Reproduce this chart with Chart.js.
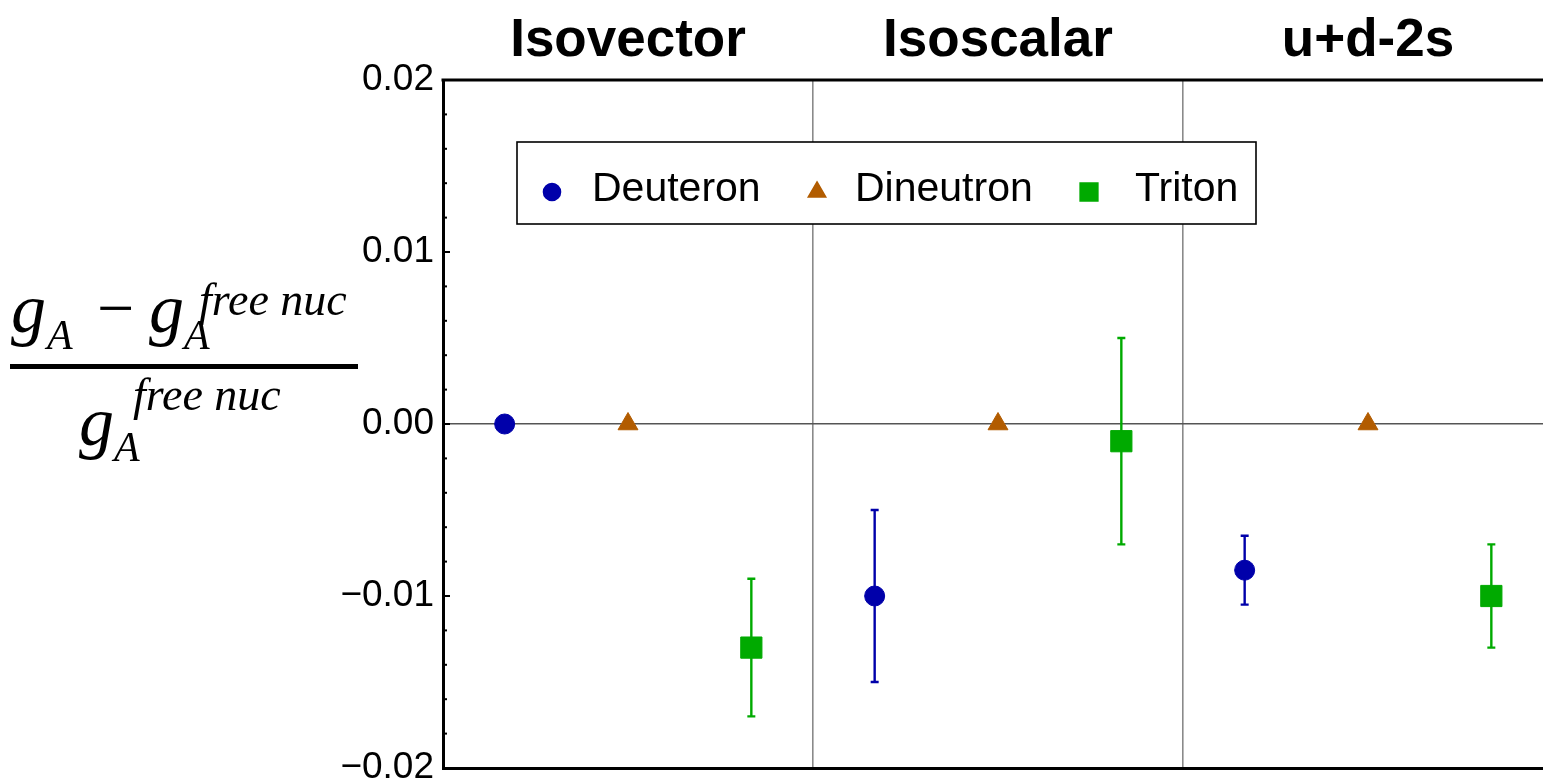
<!DOCTYPE html>
<html>
<head>
<meta charset="utf-8">
<script src="https://cdn.jsdelivr.net/npm/chart.js@4/dist/chart.umd.min.js"></script>
<style>
  html, body { margin: 0; padding: 0; background: #fff; overflow: hidden; }
  #wrap { width: 1560px; height: 781px; }
</style>
</head>
<body>
<div id="wrap"><canvas id="gaChart" width="1560" height="781"></canvas></div>
<script>
// panels along x (each one unit wide)
const groups = ["Isovector", "Isoscalar", "u+d-2s"];
const names = ["Deuteron", "Dineutron", "Triton"];
const slot = [1 / 6, 1 / 2, 5 / 6];   // position of each species inside a panel

// values
const deuteron = [0, -0.010, -0.0085];
const deuteronLo = [null, -0.015, -0.0105];
const deuteronHi = [null, -0.005, -0.0065];
const dineutron = [0, 0, 0];
const dineutronLo = [null, null, null];
const dineutronHi = [null, null, null];
const triton = [-0.013, -0.001, -0.010];
const tritonLo = [-0.017, -0.007, -0.013];
const tritonHi = [-0.009, 0.005, -0.007];

const yTickValues = [0.02, 0.01, 0, -0.01, -0.02];
const yTickLabels = ["0.02", "0.01", "0.00", "\u22120.01", "\u22120.02"];
const yMinorStep = 0.002;

const colors = ["#0000aa", "#b25c00", "#00aa00"];
const styles = ["circle", "triangle", "rect"];
const radii = [10, 11.5, 15];

const values = [deuteron, dineutron, triton];
const lows = [deuteronLo, dineutronLo, tritonLo];
const highs = [deuteronHi, dineutronHi, tritonHi];

function points(k) {
    return values[k].map((v, i) => ({x: i + slot[k], y: v}));
}

const errorBars = {
    id: "errorBars",
    beforeDatasetsDraw(chart) {
        const ctx = chart.ctx;
        const xs = chart.scales.x, ys = chart.scales.y;
        ctx.save();
        ctx.lineWidth = 2.4;
        for (let k = 0; k < 3; k++) {
            ctx.strokeStyle = colors[k];
            for (let i = 0; i < groups.length; i++) {
                if (lows[k][i] == null) continue;
                const px = xs.getPixelForValue(i + slot[k]);
                const y1 = ys.getPixelForValue(lows[k][i]);
                const y2 = ys.getPixelForValue(highs[k][i]);
                ctx.beginPath();
                ctx.moveTo(px, y1); ctx.lineTo(px, y2);
                ctx.moveTo(px - 4, y1); ctx.lineTo(px + 4, y1);
                ctx.moveTo(px - 4, y2); ctx.lineTo(px + 4, y2);
                ctx.stroke();
            }
        }
        ctx.restore();
    }
};

const decorations = {
    id: "decorations",
    afterDraw(chart) {
        const ctx = chart.ctx;
        const a = chart.chartArea;
        const xs = chart.scales.x, ys = chart.scales.y;
        ctx.save();
        // top frame line
        ctx.strokeStyle = "#000";
        ctx.lineWidth = 3;
        ctx.beginPath();
        ctx.moveTo(a.left - 1.5, a.top); ctx.lineTo(a.right, a.top);
        ctx.stroke();
        // inward ticks on the y axis
        ctx.lineWidth = 2;
        for (let v = ys.min; v <= ys.max + 1e-9; v += yMinorStep) {
            const py = ys.getPixelForValue(v);
            const major = Math.abs(v / 0.01 - Math.round(v / 0.01)) < 1e-6;
            ctx.beginPath();
            ctx.moveTo(a.left, py); ctx.lineTo(a.left + (major ? 7 : 4), py);
            ctx.stroke();
        }
        // panel titles
        ctx.fillStyle = "#000";
        ctx.font = "bold 53px 'Liberation Sans', Arial, sans-serif";
        ctx.textAlign = "center";
        ctx.textBaseline = "alphabetic";
        groups.forEach((g, i) => ctx.fillText(g, xs.getPixelForValue(i + 0.5), 56));

        // legend box
        const lx = 517, ly = 142, lw = 739, lh = 82;
        ctx.fillStyle = "#fff";
        ctx.fillRect(lx, ly, lw, lh);
        ctx.strokeStyle = "#000";
        ctx.lineWidth = 1.6;
        ctx.strokeRect(lx, ly, lw, lh);
        const symX = [552, 817, 1089];
        const textX = [592, 855, 1135];
        const legR = [8.5, 10, 12.5];
        ctx.font = "41px 'Liberation Sans', Arial, sans-serif";
        ctx.textAlign = "left";
        for (let k = 0; k < 3; k++) {
            ctx.fillStyle = colors[k];
            ctx.strokeStyle = colors[k];
            Chart.helpers.drawPoint(ctx, {pointStyle: styles[k], radius: legR[k], rotation: 0, borderWidth: 1}, symX[k], 192);
            ctx.fill();
            ctx.fillStyle = "#000";
            ctx.fillText(names[k], textX[k], 201);
        }

        // y axis title: (g_A - g_A^free nuc) / g_A^free nuc
        ctx.fillStyle = "#000";
        const big = "italic 70px 'Liberation Serif', 'Times New Roman', serif";
        const sub = "italic 42px 'Liberation Serif', 'Times New Roman', serif";
        const sup = "italic 46px 'Liberation Serif', 'Times New Roman', serif";
        ctx.font = big; ctx.fillText("g", 11, 332);
        ctx.font = sub; ctx.fillText("A", 47, 349);
        ctx.font = "66px 'Liberation Serif', 'Times New Roman', serif";
        ctx.fillText("\u2212", 97, 330);
        ctx.font = big; ctx.fillText("g", 149, 332);
        ctx.font = sub; ctx.fillText("A", 184, 349);
        ctx.font = sup; ctx.fillText("free nuc", 199, 315);
        ctx.fillRect(10, 364, 348, 5);
        ctx.font = big; ctx.fillText("g", 79, 445);
        ctx.font = sub; ctx.fillText("A", 114, 461);
        ctx.font = sup; ctx.fillText("free nuc", 133, 410);
        ctx.restore();
    }
};

const ctx = document.getElementById("gaChart").getContext("2d");
const gaChart = new Chart(ctx, {
    type: "scatter",
    data: {
        datasets: names.map((n, k) => ({
            label: n,
            data: points(k),
            pointStyle: styles[k],
            pointRadius: radii[k],
            pointHoverRadius: radii[k],
            backgroundColor: colors[k],
            borderColor: colors[k],
            pointBorderWidth: 1,
        }))
    },
    options: {
        responsive: false,
        animation: false,
        events: [],
        layout: {autoPadding: false, padding: {left: 0, top: 80, right: 7, bottom: 13}},
        plugins: {legend: {display: false}, tooltip: {enabled: false}},
        scales: {
            x: {
                type: "linear",
                min: 0,
                max: 3,
                ticks: {display: false, stepSize: 1},
                grid: {
                    drawTicks: false,
                    lineWidth: 1.6,
                    color: (c) => (c.tick && (c.tick.value === 1 || c.tick.value === 2)) ? "#8a8a8a" : "rgba(0,0,0,0)",
                },
                border: {display: true, color: "#000", width: 3},
                afterFit: (s) => { s.height = 0; s.paddingLeft = 0; s.paddingRight = 0; },
            },
            y: {
                min: -0.02,
                max: 0.02,
                afterBuildTicks: (s) => { s.ticks = yTickValues.map(v => ({value: v})); },
                ticks: {
                    color: "#000",
                    padding: 9,
                    font: {family: "'Liberation Sans', Arial, sans-serif", size: 37},
                    callback: (v) => yTickLabels[yTickValues.indexOf(v)],
                },
                grid: {
                    drawTicks: false,
                    lineWidth: 1.4,
                    color: (c) => (c.tick && c.tick.value === 0) ? "#555" : "rgba(0,0,0,0)",
                },
                border: {display: true, color: "#000", width: 3},
                afterFit: (s) => { s.width = 443; s.paddingTop = 0; s.paddingBottom = 0; },
            }
        }
    },
    plugins: [errorBars, decorations]
});
</script>
</body>
</html>
